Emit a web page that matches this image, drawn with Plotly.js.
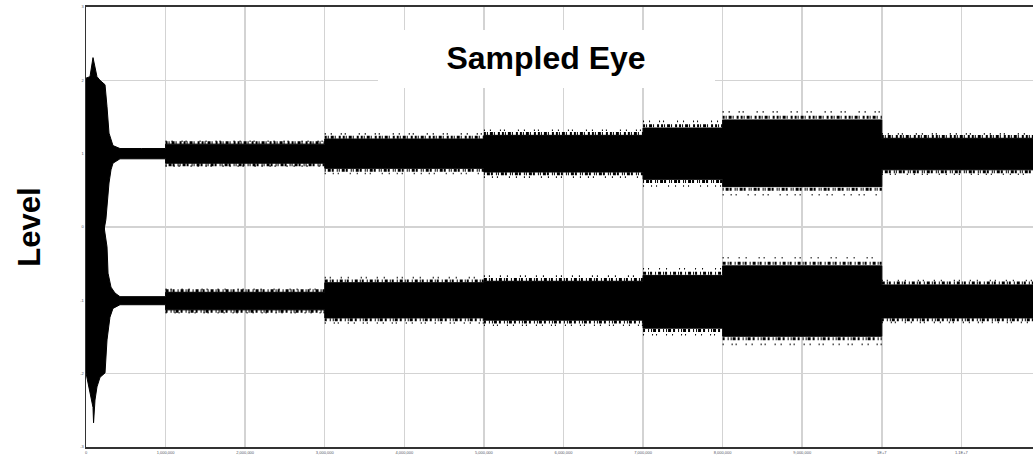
<!DOCTYPE html>
<html><head><meta charset="utf-8">
<script src="https://cdn.plot.ly/plotly-3.0.1.min.js"></script>
<style>html,body{margin:0;padding:0;overflow:hidden;background:#fff}</style>
</head><body><div id="chart" style="width:1033px;height:455px"></div>
<script>
// ---- data (x in millions of samples, y in level units) ----
// start-up transient, upper eye band outline
const upperHeadTopX = [0, 0.05, 0.088, 0.138, 0.176, 0.239, 0.264, 0.289, 0.339, 0.427, 0.7, 1.0];
const upperHeadTopY = [2.03, 2.05, 2.31, 2.05, 2.0, 1.94, 1.64, 1.28, 1.11, 1.07, 1.07, 1.07];
const upperHeadBotX = [1.0, 0.7, 0.427, 0.339, 0.314, 0.289, 0.264, 0.25, 0.2, 0.1, 0];
const upperHeadBotY = [0.93, 0.93, 0.93, 0.87, 0.78, 0.60, 0.27, 0.10, -0.2, -0.2, -0.2];
// start-up transient, lower eye band outline
const lowerHeadTopX = [0, 0.1, 0.2, 0.264, 0.277, 0.314, 0.364, 0.427, 0.7, 1.0];
const lowerHeadTopY = [0.2, 0.2, 0.2, -0.27, -0.63, -0.82, -0.90, -0.95, -0.95, -0.95];
const lowerHeadBotX = [1.0, 0.7, 0.427, 0.339, 0.301, 0.264, 0.251, 0.239, 0.176, 0.138, 0.113, 0.095, 0.088, 0.05, 0];
const lowerHeadBotY = [-1.06, -1.06, -1.06, -1.11, -1.23, -1.54, -1.81, -1.99, -2.05, -2.18, -2.36, -2.67, -2.46, -2.26, -1.99];

// steady-state segments: dense core of each band
const segStartM = [1, 3, 5, 7, 8, 10];
const segEndM   = [3, 5, 7, 8, 10, 12];
const upperTop  = [1.13, 1.20, 1.25, 1.35, 1.46, 1.21];
const upperBot  = [0.87, 0.80, 0.75, 0.65, 0.55, 0.78];
const lowerTop  = [-0.89, -0.76, -0.74, -0.66, -0.53, -0.79];
const lowerBot  = [-1.13, -1.24, -1.27, -1.38, -1.49, -1.24];
// how far scattered samples reach beyond the dense core (level units)
const nearFringe = [0.02, 0.025, 0.025, 0.03, 0.035, 0.025];
const farFringe  = [0.04, 0.07, 0.07, 0.09, 0.11, 0.06];

const xTickVals = [0, 1, 2, 3, 4, 5, 6, 7, 8, 9, 10, 11];
const xTickText = ['0', '1,000,000', '2,000,000', '3,000,000', '4,000,000', '5,000,000',
  '6,000,000', '7,000,000', '8,000,000', '9,000,000', '1E+7', '1.1E+7'];
const yTickVals = [-3, -2, -1, 0, 1, 2, 3];
const yTickText = ['-3', '-2', '-1', '0', '1', '2', '3'];

// ---- build outlines ----
const M = 1e6;
function band(headTopX, headTopY, headBotX, headBotY, top, bot) {
  const xs = [], ys = [];
  headTopX.forEach((v, i) => { xs.push(v * M); ys.push(headTopY[i]); });
  for (let i = 0; i < segStartM.length; i++) {
    xs.push(segStartM[i] * M, segEndM[i] * M); ys.push(top[i], top[i]);
  }
  for (let i = segStartM.length - 1; i >= 0; i--) {
    xs.push(segEndM[i] * M, segStartM[i] * M); ys.push(bot[i], bot[i]);
  }
  headBotX.forEach((v, i) => { xs.push(v * M); ys.push(headBotY[i]); });
  return {x: xs, y: ys};
}
function stepLine(edge, off, sign) {
  const xs = [], ys = [];
  for (let i = 0; i < segStartM.length; i++) {
    const v = edge[i] + sign * off[i];
    xs.push(segStartM[i] * M, segEndM[i] * M); ys.push(v, v);
    xs.push(null); ys.push(null);
  }
  return {x: xs, y: ys};
}
const up = band(upperHeadTopX, upperHeadTopY, upperHeadBotX, upperHeadBotY, upperTop, upperBot);
const lo = band(lowerHeadTopX, lowerHeadTopY, lowerHeadBotX, lowerHeadBotY, lowerTop, lowerBot);

const traces = [
  {x: up.x, y: up.y, type: 'scatter', mode: 'lines', fill: 'toself', fillcolor: '#000',
   line: {color: '#000', width: 1}, hoverinfo: 'skip', showlegend: false},
  {x: lo.x, y: lo.y, type: 'scatter', mode: 'lines', fill: 'toself', fillcolor: '#000',
   line: {color: '#000', width: 1}, hoverinfo: 'skip', showlegend: false}
];
const nearDash = ['2px,1px,1px,2px,3px,1px,1px,3px,2px,2px', '1px,2px,3px,1px,2px,3px,1px,1px',
                  '3px,2px,1px,1px,2px,3px,1px,2px', '2px,3px,1px,2px,1px,1px,3px,2px'];
const farDash  = ['1px,5px,1px,9px,1px,3px,1px,13px', '1px,7px,1px,4px,1px,11px,1px,6px',
                  '1px,4px,1px,10px,1px,6px,1px,12px', '1px,8px,1px,3px,1px,9px,1px,5px'];
[[upperTop, 1], [upperBot, -1], [lowerTop, 1], [lowerBot, -1]].forEach(([edge, sign], k) => {
  const n = stepLine(edge, nearFringe, sign);
  traces.push({x: n.x, y: n.y, type: 'scatter', mode: 'lines', connectgaps: false,
    line: {color: '#000', width: 3, dash: nearDash[k]}, hoverinfo: 'skip', showlegend: false});
  const f = stepLine(edge, farFringe, sign);
  traces.push({x: f.x, y: f.y, type: 'scatter', mode: 'lines', connectgaps: false,
    line: {color: '#000', width: 1.6, dash: farDash[k]}, hoverinfo: 'skip', showlegend: false});
});

const layout = {
  width: 1033, height: 455,
  margin: {l: 86, r: 0, t: 7, b: 8},
  paper_bgcolor: '#fff', plot_bgcolor: '#fff',
  font: {family: 'Liberation Sans, Arial, sans-serif', color: '#000'},
  title: {text: '<b>Sampled Eye</b>', font: {size: 32, color: '#000'},
          xref: 'container', yref: 'container', x: 0.5286, xanchor: 'center', y: 0.872, yanchor: 'middle'},
  xaxis: {range: [0, 11.9 * M], tickvals: xTickVals.map(v => v * M), ticktext: xTickText,
          showgrid: true, gridcolor: '#d3d3d3', gridwidth: 1.5, zeroline: false,
          showline: true, linecolor: '#333', linewidth: 2, mirror: true,
          ticks: '', tickfont: {size: 4, color: '#556'}, automargin: false, fixedrange: true},
  yaxis: {range: [-3, 3], tickvals: yTickVals, ticktext: yTickText,
          showgrid: true, gridcolor: '#d3d3d3', gridwidth: 1.5, zeroline: false,
          showline: true, linecolor: '#333', linewidth: 1.5,
          ticks: '', tickfont: {size: 4, color: '#556'}, automargin: false, fixedrange: true,
          title: {text: '<b>Level</b>', font: {size: 31, color: '#000'}, standoff: 30}},
  shapes: [{type: 'rect', xref: 'paper', yref: 'paper', x0: 0.3083, x1: 0.6642, y0: 0.8159, y1: 0.9477,
            fillcolor: '#fff', line: {width: 0}, layer: 'above'}]
};
Plotly.newPlot('chart', traces, layout, {staticPlot: true, displayModeBar: false});
</script></body></html>
